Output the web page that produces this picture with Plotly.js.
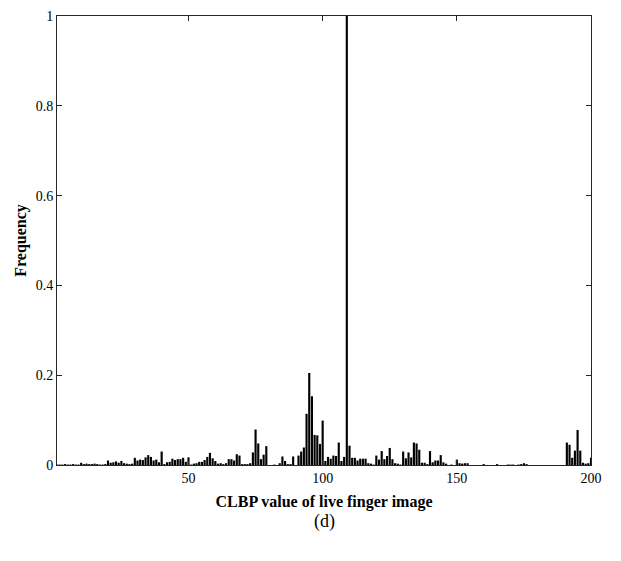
<!DOCTYPE html>
<html>
<head>
<meta charset="utf-8">
<script src="https://cdn.plot.ly/plotly-3.0.1.min.js"></script>
<style>html,body{margin:0;padding:0;background:#fff;}#chart{width:621px;height:561px;}</style>
</head>
<body>
<div id="chart"></div>
<script>
// Frequency of each CLBP value (bins 1..200)
const frequency = [
  0.001,0.001,0.001,0.002,0.001,0.001,0.002,0.001,0.001,0.005,
  0.002,0.003,0.002,0.002,0.003,0.002,0.001,0.001,0.002,0.010,
  0.005,0.006,0.008,0.005,0.009,0.004,0.003,0.002,0.003,0.016,
  0.010,0.012,0.011,0.017,0.022,0.018,0.010,0.012,0.006,0.030,
  0.002,0.006,0.007,0.014,0.011,0.013,0.013,0.016,0.007,0.017,
  0.001,0.003,0.004,0.007,0.007,0.011,0.018,0.027,0.015,0.009,
  0.003,0.004,0.002,0.004,0.013,0.013,0.010,0.024,0.021,0.002,
  0.002,0.002,0.004,0.028,0.079,0.048,0.013,0.023,0.042,0.000,
  0.000,0.001,0.000,0.004,0.019,0.009,0.002,0.002,0.019,0.000,
  0.021,0.030,0.039,0.114,0.205,0.153,0.067,0.066,0.047,0.099,
  0.009,0.018,0.014,0.021,0.020,0.050,0.009,0.018,1.000,0.043,
  0.016,0.016,0.010,0.014,0.014,0.014,0.004,0.003,0.001,0.021,
  0.012,0.031,0.013,0.020,0.038,0.013,0.004,0.003,0.001,0.030,
  0.015,0.028,0.017,0.050,0.048,0.034,0.005,0.005,0.002,0.031,
  0.006,0.010,0.010,0.022,0.006,0.003,0.000,0.001,0.000,0.012,
  0.004,0.003,0.004,0.004,0.000,0.000,0.000,0.000,0.000,0.002,
  0.000,0.000,0.000,0.000,0.002,0.000,0.000,0.000,0.001,0.001,
  0.001,0.000,0.001,0.002,0.004,0.002,0.000,0.000,0.000,0.000,
  0.000,0.000,0.000,0.000,0.000,0.000,0.000,0.000,0.000,0.000,
  0.050,0.045,0.016,0.032,0.078,0.032,0.005,0.003,0.004,0.016
];
const clbpValues = frequency.map((_, i) => i + 1);
const xTickVals = [50, 100, 150, 200];
const yTickVals = [0, 0.2, 0.4, 0.6, 0.8, 1];
const yTickText = ['0', '0.2', '0.4', '0.6', '0.8', '1'];
const xTitle = 'CLBP value of live finger image';
const yTitle = 'Frequency';
const panelLabel = '(d)';

const serif = 'Liberation Serif, Times New Roman, serif';
const axisColor = '#262626';

const trace = {
  type: 'bar',
  x: clbpValues,
  y: frequency,
  marker: {color: '#000000', line: {width: 0}},
  hoverinfo: 'x+y'
};

const layout = {
  width: 621,
  height: 561,
  margin: {l: 57, r: 30, t: 16, b: 96},
  paper_bgcolor: '#ffffff',
  plot_bgcolor: '#ffffff',
  bargap: 0.2,
  showlegend: false,
  font: {family: serif, size: 14, color: '#000'},
  xaxis: {
    range: [1, 200],
    tickvals: xTickVals,
    ticks: 'inside',
    ticklen: 5,
    tickcolor: axisColor,
    showline: true,
    mirror: 'ticks',
    linecolor: axisColor,
    linewidth: 1,
    showgrid: false,
    zeroline: false,
    tickfont: {family: serif, size: 14, color: '#000'},
    title: {text: '<b>' + xTitle + '</b>', font: {family: serif, size: 16, color: '#000'}, standoff: 11}
  },
  yaxis: {
    range: [0, 1],
    tickvals: yTickVals,
    ticktext: yTickText,
    ticks: 'inside',
    ticklen: 5,
    tickcolor: axisColor,
    showline: true,
    mirror: 'ticks',
    linecolor: axisColor,
    linewidth: 1,
    showgrid: false,
    zeroline: false,
    tickfont: {family: serif, size: 14, color: '#000'},
    title: {text: '<b>' + yTitle + '</b>', font: {family: serif, size: 16, color: '#000'}, standoff: 5}
  },
  annotations: [{
    text: panelLabel,
    xref: 'paper', yref: 'paper',
    x: 0.5, y: -0.125,
    xanchor: 'center', yanchor: 'middle',
    showarrow: false,
    font: {family: serif, size: 18, color: '#000'}
  }]
};

Plotly.newPlot('chart', [trace], layout, {displayModeBar: false, staticPlot: true});
</script>
</body>
</html>
